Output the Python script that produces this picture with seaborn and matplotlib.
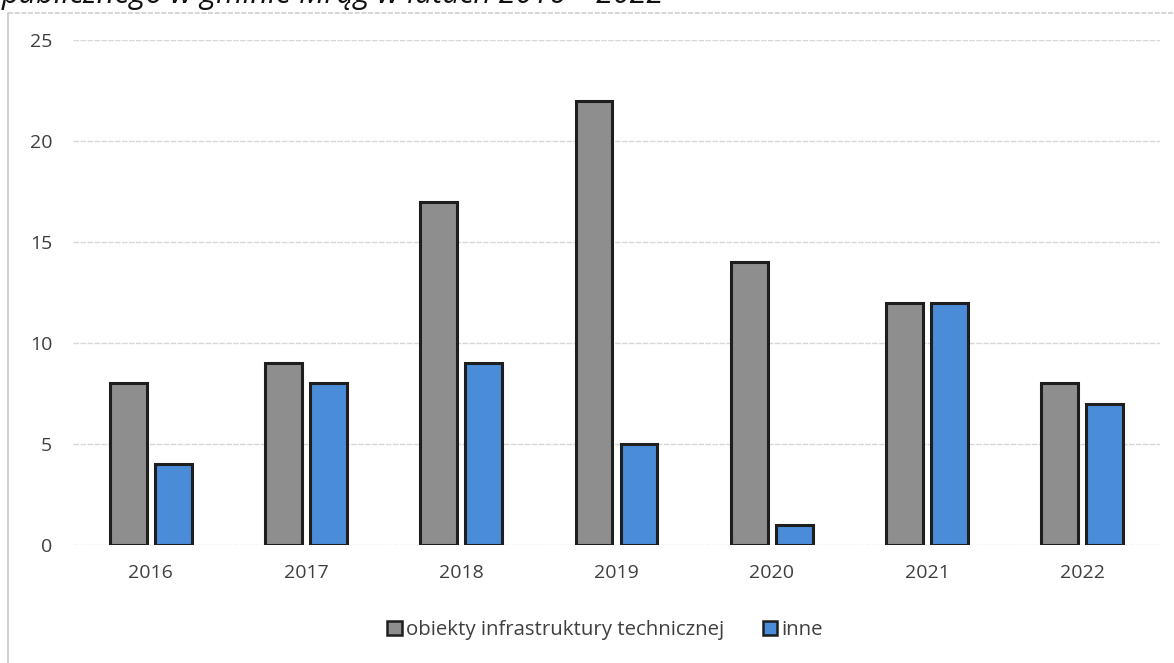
import matplotlib
matplotlib.use("Agg")
import matplotlib.pyplot as plt
from matplotlib.lines import Line2D
from matplotlib.patches import Patch
import seaborn as sns
import pandas as pd

years = ["2016", "2017", "2018", "2019", "2020", "2021", "2022"]
infra = [8, 9, 17, 22, 14, 12, 8]
inne = [4, 8, 9, 5, 1, 12, 7]
series_names = ["obiekty infrastruktury technicznej", "inne"]
colors = ["#8e8e8e", "#4a8cd8"]
yticks = [0, 5, 10, 15, 20, 25]
title_text = "publicznego w gminie Mrąg w latach 2016 – 2022"

df = pd.DataFrame({
    "rok": years * 2,
    "liczba": infra + inne,
    "rodzaj": [series_names[0]] * len(years) + [series_names[1]] * len(years),
})

sns.set_theme(style="white")
plt.rcParams["font.family"] = ["Open Sans", "DejaVu Sans"]

W, H = 1174, 663
fig = plt.figure(figsize=(W / 100, H / 100), dpi=100)
ax = fig.add_axes([73 / W, 1 - 545 / H, (1160 - 73) / W, (545 - 40) / H])

sns.barplot(data=df, x="rok", y="liczba", hue="rodzaj", order=years,
            hue_order=series_names, palette=colors, width=0.58, gap=0.18,
            edgecolor="#1e1e1e", linewidth=2.2, saturation=1, ax=ax,
            legend=False, zorder=3)

ax.set_ylim(0, 25)
ax.set_yticks(yticks)
ax.set_yticklabels([str(v) for v in yticks])
ax.set_xlim(-0.5, len(years) - 0.5)
ax.set_xlabel("")
ax.set_ylabel("")
for s in ax.spines.values():
    s.set_visible(False)
ax.yaxis.grid(True, color="#d8d8d8", linewidth=1.0, linestyle=(0, (4, 1)))
ax.xaxis.grid(False)
ax.set_axisbelow(True)
ax.tick_params(axis="both", length=0, labelsize=14, labelcolor="#3f3f3f")
ax.tick_params(axis="y", pad=15)
ax.tick_params(axis="x", pad=14)

# outer frame of the chart area
fig.add_artist(Line2D([8 / W, 8 / W], [0, 1 - 13 / H], color="#c8c8c8", lw=1.2,
                      transform=fig.transFigure))
fig.add_artist(Line2D([8 / W, 1], [1 - 13 / H, 1 - 13 / H], color="#cfcfcf", lw=1.2,
                      linestyle=(0, (3, 1)), transform=fig.transFigure))

fig.text(2 / W, 1 - 3 / H, title_text, fontsize=22, style="italic",
         color="#111111", ha="left", va="baseline",
         family=["Open Sans", "DejaVu Sans"])

handles = [Patch(facecolor=c, edgecolor="#1e1e1e", linewidth=1.8) for c in colors]
fig.legend(handles, series_names, loc="center", ncol=2,
           bbox_to_anchor=(605 / W, 1 - 630 / H), frameon=False,
           fontsize=14.7, handlelength=0.7, handleheight=0.7,
           handletextpad=0.2, columnspacing=1.9, labelcolor="#3f3f3f")

fig.savefig("out.png", dpi=100, facecolor="white")
